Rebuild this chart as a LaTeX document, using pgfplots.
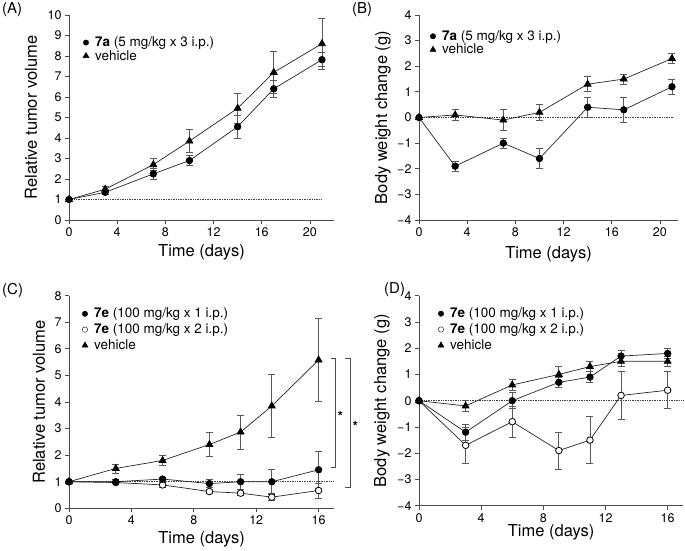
\documentclass[border=0pt]{standalone}
\usepackage{fontspec}
\setmainfont{TeX Gyre Heros}
\usepackage{pgfplots}
\pgfplotsset{compat=1.18}

\definecolor{axc}{gray}{0.3}
\definecolor{errc}{gray}{0.35}

\pgfplotsset{
  panel/.style={
    scale only axis, axis lines=left,
    axis line style={-, axc, line width=0.8pt},
    enlargelimits=false, clip=false,
    tick align=outside, major tick length=4pt,
    tick style={axc, line width=0.8pt},
    tick label style={font=\fontsize{12.5}{14}\selectfont},
    /pgf/number format/assume math mode=true,
    xlabeloff=32pt,
    legend style={draw=none, fill=none, inner sep=0pt, outer sep=0pt,
      nodes={inner sep=1pt, text depth=0.15em}, column sep=5pt,
      font=\fontsize{13.5}{15}\selectfont, anchor=north west},
    legend cell align=left,
    legend image code/.code={\draw[##1] plot coordinates {(0pt,0pt)};},
  },
  xlabeloff/.style={every axis x label/.style={at={(axis description cs:0.5,0)}, yshift=-#1, anchor=center, font=\fontsize{16.5}{18}\selectfont}},
  ylabeloff/.style={every axis y label/.style={at={(axis description cs:0,0.5)}, xshift=-#1, rotate=90, anchor=center, font=\fontsize{16.5}{18}\selectfont}},
  errs/.style={error bars/y dir=both, error bars/y explicit,
    error bars/error bar style={errc, line width=0.8pt},
    error bars/error mark options={rotate=90, mark size=3.5pt, errc, line width=0.8pt}},
  sfill/.style={black!85, line width=0.7pt, mark=*, mark size=3.3pt, mark options={solid, fill=black, draw=black}, errs},
  sopen/.style={black!85, line width=0.7pt, mark=*, mark size=3.3pt, mark options={solid, fill=white, draw=black, line width=0.8pt}, errs},
  stri/.style={black!85, line width=0.7pt, mark=triangle*, mark size=4pt, mark options={solid, fill=black, draw=black}, errs},
  refline/.style={densely dotted, black!75, line width=0.7pt, forget plot},
}

\begin{document}
\begin{tikzpicture}
\useasboundingbox (0,0) rectangle (685pt,550pt);

\node[anchor=base west, inner sep=0, font=\fontsize{15}{17}\selectfont] at (2pt,536pt) {(A)};
\node[anchor=base west, inner sep=0, font=\fontsize{15}{17}\selectfont] at (352pt,536pt) {(B)};
\node[anchor=base west, inner sep=0, font=\fontsize{15}{17}\selectfont] at (2pt,256pt) {(C)};
\node[anchor=base west, inner sep=0, font=\fontsize{15}{17}\selectfont] at (384pt,257pt) {(D)};

% ---------------- (A)
\begin{axis}[panel, ylabeloff=38pt,
  at={(69pt,330pt)}, anchor=south west, width=265pt, height=205pt,
  xmin=0, xmax=22, ymin=0, ymax=10,
  xtick={0,4,8,12,16,20}, ytick={0,1,...,10},
  xlabel={Time (days)}, ylabel={Relative tumor volume},
  legend style={at={(axis cs:1.16,8.98)}}]
\addlegendimage{only marks, mark=*, mark size=2.7pt, black}
\addlegendentry{\textbf{7a} (5 mg/kg x 3 i.p.)}
\addlegendimage{only marks, mark=triangle*, mark size=3.5pt, black}
\addlegendentry{vehicle}
\addplot[refline] coordinates {(0,1) (21,1)};
\addplot[stri, forget plot] table[x=t, y=m, y error=e] {
t m e
0 1 0
3 1.5 0.12
7 2.7 0.3
10 3.85 0.57
14 5.45 0.75
17 7.2 1.0
21 8.6 1.23
};
\addplot[sfill, forget plot] table[x=t, y=m, y error=e] {
t m e
0 1 0
3 1.35 0.12
7 2.25 0.25
10 2.9 0.26
14 4.55 0.55
17 6.4 0.42
21 7.82 0.35
};
\end{axis}

% ---------------- (B)
\begin{axis}[panel, ylabeloff=36pt, xlabeloff=34pt,
  at={(419pt,330pt)}, anchor=south west, width=259pt, height=205pt,
  xmin=0, xmax=21.5, ymin=-4, ymax=4,
  xtick={0,4,8,12,16,20}, ytick={-4,-3,...,4},
  yticklabels={−4,−3,−2,−1,0,1,2,3,4},
  xlabel={Time (days)}, ylabel={Body weight change (g)},
  legend style={at={(axis cs:0.91,3.43)}}]
\addlegendimage{only marks, mark=*, mark size=2.7pt, black}
\addlegendentry{\textbf{7a} (5 mg/kg x 3 i.p.)}
\addlegendimage{only marks, mark=triangle*, mark size=3.5pt, black}
\addlegendentry{vehicle}
\addplot[refline] coordinates {(0,0) (21.1,0)};
\addplot[stri, forget plot] table[x=t, y=m, y error=e] {
t m e
0 0 0
3 0.1 0.2
7 -0.1 0.4
10 0.2 0.3
14 1.3 0.3
17 1.5 0.2
21 2.3 0.2
};
\addplot[sfill, forget plot] table[x=t, y=m, y error=e] {
t m e
0 0 0
3 -1.9 0.2
7 -1.0 0.2
10 -1.6 0.4
14 0.4 0.4
17 0.3 0.5
21 1.2 0.3
};
\end{axis}

% ---------------- (C)
\begin{axis}[panel, ylabeloff=30pt, xlabeloff=31pt,
  at={(69pt,41.7pt)}, anchor=south west, width=265.2pt, height=212.6pt,
  xmin=0, xmax=17, ymin=0, ymax=8,
  xtick={0,4,8,12,16}, ytick={0,1,...,8},
  xlabel={Time (days)}, ylabel={Relative tumor volume},
  legend style={at={(axis cs:0.83,7.57)}, row sep=2.5pt}]
\addlegendimage{only marks, mark=*, mark size=2.7pt, black}
\addlegendentry{\textbf{7e} (100 mg/kg x 1 i.p.)}
\addlegendimage{only marks, mark=*, mark size=2.7pt, black, fill=white}
\addlegendentry{\textbf{7e} (100 mg/kg x 2 i.p.)}
\addlegendimage{only marks, mark=triangle*, mark size=3.5pt, black}
\addlegendentry{vehicle}
\addplot[refline] coordinates {(0,1) (17,1)};
\addplot[stri, forget plot] table[x=t, y=m, y error=e] {
t m e
0 1 0
3 1.5 0.17
6 1.8 0.2
9 2.4 0.44
11 2.87 0.64
13 3.85 1.2
16 5.58 1.55
};
\addplot[sopen, forget plot] table[x=t, y=m, y error=e] {
t m e
0 1 0
3 0.97 0.05
6 0.88 0.08
9 0.63 0.08
11 0.57 0.08
13 0.42 0.12
16 0.67 0.28
};
\addplot[sfill, forget plot] table[x=t, y=m, y error=e] {
t m e
0 1 0
3 1.0 0.07
6 1.1 0.08
9 0.93 0.15
11 1.0 0.27
13 1.0 0.45
16 1.45 0.7
};
\draw[axc, line width=0.8pt] (axis cs:16.78,5.65) -- (axis cs:17.05,5.65) -- (axis cs:17.05,1.53) -- (axis cs:16.78,1.53);
\draw[axc, line width=0.8pt] (axis cs:17.71,5.65) -- (axis cs:18.01,5.65) -- (axis cs:18.01,0.77) -- (axis cs:17.71,0.77);
\node[font=\fontsize{14}{14}\selectfont\bfseries, inner sep=0] at (axis cs:17.4,3.45) {*};
\node[font=\fontsize{14}{14}\selectfont\bfseries, inner sep=0] at (axis cs:18.35,3.1) {*};
\end{axis}

% ---------------- (D)
\begin{axis}[panel, ylabeloff=37pt, xlabeloff=27pt,
  at={(419pt,44.3pt)}, anchor=south west, width=264.2pt, height=210pt,
  xmin=0, xmax=17, ymin=-4, ymax=4,
  xtick={0,4,8,12,16}, ytick={-4,-3,...,4},
  yticklabels={−4,−3,−2,−1,0,1,2,3,4},
  xlabel={Time (days)}, ylabel={Body weight change (g)},
  legend style={at={(axis cs:1.22,3.57)}, row sep=2.5pt}]
\addlegendimage{only marks, mark=*, mark size=2.7pt, black}
\addlegendentry{\textbf{7e} (100 mg/kg x 1 i.p.)}
\addlegendimage{only marks, mark=*, mark size=2.7pt, black, fill=white}
\addlegendentry{\textbf{7e} (100 mg/kg x 2 i.p.)}
\addlegendimage{only marks, mark=triangle*, mark size=3.5pt, black}
\addlegendentry{vehicle}
\addplot[refline] coordinates {(0,0) (17,0)};
\addplot[sopen, forget plot] table[x=t, y=m, y error=e] {
t m e
0 0 0
3 -1.7 0.7
6 -0.8 0.6
9 -1.9 0.7
11 -1.5 0.9
13 0.2 0.9
16 0.4 0.7
};
\addplot[stri, forget plot] table[x=t, y=m, y error=e] {
t m e
0 0 0
3 -0.2 0.2
6 0.6 0.2
9 1.0 0.3
11 1.3 0.2
13 1.5 0.2
16 1.5 0.2
};
\addplot[sfill, forget plot] table[x=t, y=m, y error=e] {
t m e
0 0 0
3 -1.2 0.3
6 0.0 0.3
9 0.7 0.2
11 0.9 0.2
13 1.7 0.2
16 1.8 0.2
};
\end{axis}
\end{tikzpicture}
\end{document}
